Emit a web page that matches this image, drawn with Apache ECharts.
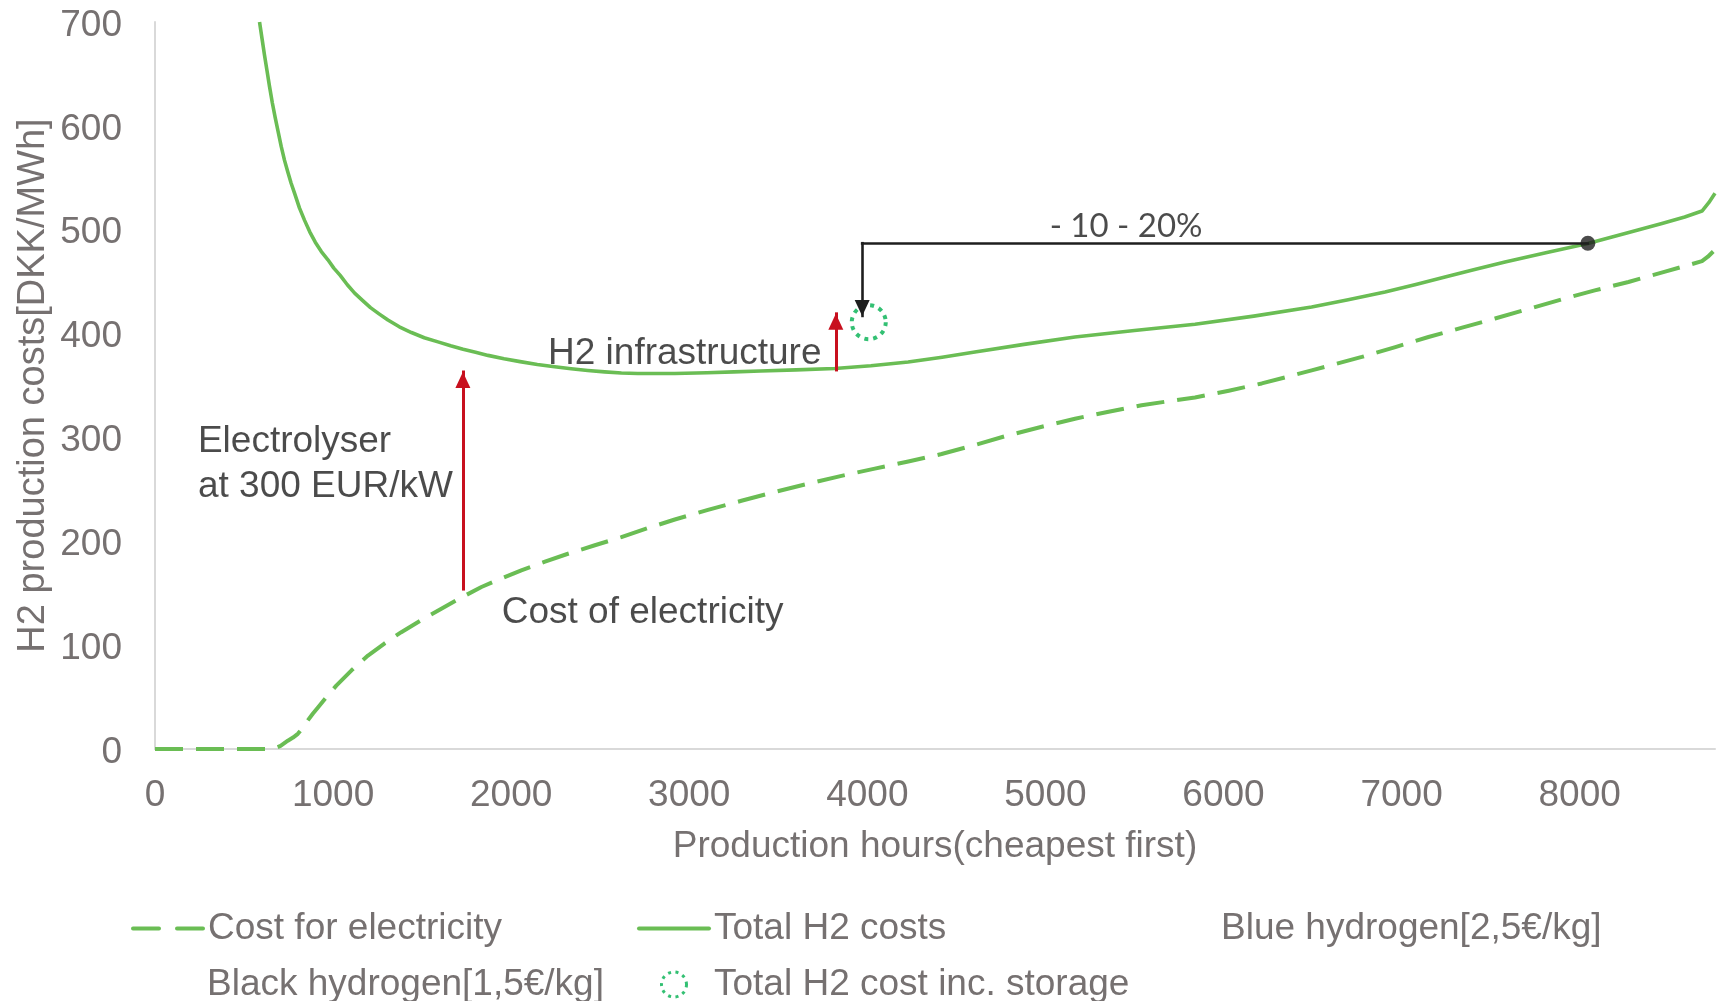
<!DOCTYPE html>
<html>
<head>
<meta charset="utf-8">
<script src="https://cdn.jsdelivr.net/npm/echarts@6/dist/echarts.min.js"></script>
<style>
  html, body { margin: 0; padding: 0; background: #ffffff; }
  #chart { width: 1729px; height: 1001px; }
</style>
</head>
<body>
<div id="chart"></div>
<script>
// H2 production cost curves, hours sorted cheapest first: [hours, DKK/MWh]
const totalH2Costs = [
  [587, 700], [601, 684], [615, 668], [629, 653], [643, 638], [659, 622],
  [675, 608], [692, 594], [709, 580], [727, 567], [745, 556], [764, 545],
  [784, 535], [811, 521], [840, 509], [869, 498], [900, 488], [934, 479],
  [971, 471], [1004, 463], [1040, 456], [1080, 447], [1121, 439], [1165, 432],
  [1210, 425], [1258, 419], [1308, 413], [1372, 406.5], [1440, 401], [1512, 396],
  [1589, 392], [1660, 388.3], [1730, 385], [1800, 382], [1870, 379], [1960, 375.8],
  [2050, 373], [2147, 370.3], [2244, 368], [2337, 366.1], [2430, 364.5], [2525, 363.1],
  [2619, 362], [2710, 361.6], [2800, 361.5], [2919, 361.5], [3100, 362.3], [3250, 363.1],
  [3400, 364], [3600, 365], [3817, 366.3], [4020, 369], [4229, 372.6], [4420, 377.2],
  [4604, 382.3], [4880, 389.6], [5166, 396.7], [5500, 402.9], [5840, 409], [6170, 416.8],
  [6495, 425.6], [6700, 432.5], [6907, 440], [7080, 447.2], [7244, 454.5], [7410, 461.6],
  [7581, 469], [7810, 477.8], [8046, 486.7], [8260, 496.5], [8462, 506], [8590, 512.2],
  [8687, 518], [8725, 526], [8760, 535]
];

const electricityCosts = [
  [0, 0], [662, 0], [705, 3], [746, 8], [775, 11], [802, 14.6], [830, 20.5],
  [858, 27.5], [886, 34], [915, 40], [965, 50.5], [1018, 61], [1105, 76],
  [1196, 90], [1290, 101.8], [1383, 112.5], [1495, 124], [1608, 135], [1720, 145.8],
  [1833, 156], [1945, 164.2], [2057, 172], [2190, 180.3], [2319, 188], [2470, 196.2],
  [2619, 204], [2770, 212.8], [2919, 221], [3105, 230.3], [3293, 239], [3480, 247.5],
  [3667, 255.5], [3855, 263], [4042, 270], [4230, 276.8], [4417, 284], [4605, 292.8],
  [4791, 302], [4980, 310.3], [5166, 318], [5355, 324.8], [5540, 331], [5690, 334.8],
  [5840, 338.5], [6030, 345], [6215, 352], [6355, 358.2], [6495, 364.6], [6635, 371],
  [6777, 377.5], [6965, 387], [7151, 396.7], [7340, 405.7], [7525, 414.5], [7710, 423.6],
  [7900, 433], [8085, 441.6], [8274, 449.7], [8480, 459.6], [8687, 469.7], [8720, 474], [8750, 479]
];

// Reference lines listed in the legend only
const blueHydrogen = [];
const blackHydrogen = [];

// Total cost including storage, and the full-year reference point
const storageCost = [[4008, 411]];
const fullYearCost = [[8046, 487]];

// Annotation geometry in data units
const electrolyserArrow = [[1729, 154], [1729, 363]];
const infrastructureArrow = [[3823, 365], [3823, 419]];
const savingPath = [[8046, 487], [3971, 487], [3971, 417]];

const notes = [
  { text: 'Electrolyser\nat 300 EUR/kW', at: [241, 274] },
  { text: 'H2 infrastructure', at: [2207, 381] },
  { text: 'Cost of electricity', at: [1947, 131.5] },
  { text: '- 10 - 20%', at: [5453, 503] }
];

const FONT = "'Liberation Sans', Arial, sans-serif";
const GREY = '#767171';
const GREEN = '#6abd54';
const DOT_GREEN = '#00b050';
const RED = '#c8101e';
const INK = '#1e1e1e';

const noteStyles = {
  'Electrolyser\nat 300 EUR/kW': { align: 'left', lineHeight: 45 },
  'H2 infrastructure': { align: 'left' },
  'Cost of electricity': { align: 'left' },
  '- 10 - 20%': { align: 'center', fontFamily: "Lato, 'Open Sans', sans-serif", fontSize: 33 }
};

const arrowHead = { symbol: 'triangle', symbolSize: [15, 16], symbolOffset: [0, 8] };

function segment(from, to, color, width, withHead) {
  const ls = { color: color, width: width, type: 'solid', cap: 'square' };
  const end = Object.assign({ coord: to, lineStyle: ls }, withHead ? arrowHead : { symbol: 'none' });
  return [{ coord: from, symbol: 'none', lineStyle: ls }, end];
}

const legendText = { color: GREY, fontSize: 37, fontFamily: FONT };
function legendAt(name, left, top, extra) {
  return {
    data: [Object.assign({ name: name }, extra || {})],
    left: left, top: top, padding: 0,
    itemWidth: 70, itemHeight: 25,
    selectedMode: false,
    textStyle: legendText
  };
}
const hidden = { itemStyle: { opacity: 0 }, lineStyle: { opacity: 0 } };

const chart = echarts.init(document.getElementById('chart'), null, { renderer: 'canvas' });

chart.setOption({
  animation: false,
  backgroundColor: '#ffffff',
  grid: { left: 155, right: 14, top: 22, bottom: 252, containLabel: false },
  legend: [
    legendAt('Cost for electricity', 131, 910, {
      itemStyle: { opacity: 0 },
      lineStyle: { color: GREEN, width: 4, type: [26, 18], cap: 'round' }
    }),
    legendAt('Total H2 costs', 637, 910, {
      itemStyle: { opacity: 0 },
      lineStyle: { color: GREEN, width: 4, type: 'solid', cap: 'round' }
    }),
    legendAt('Blue hydrogen[2,5€/kg]', 1145, 910, hidden),
    legendAt('Black hydrogen[1,5€/kg]', 131, 966, hidden),
    legendAt('Total H2 cost inc. storage', 660, 966, {
      itemStyle: { color: 'rgba(0,0,0,0)', borderColor: DOT_GREEN, borderWidth: 3, borderType: [3, 4.5] }
    })
  ],
  xAxis: {
    type: 'value', min: 0, max: 8760, interval: 1000,
    name: 'Production hours(cheapest first)',
    nameLocation: 'middle', nameGap: 79, nameMoveOverlap: false,
    nameTextStyle: { color: GREY, fontSize: 37, fontFamily: FONT },
    axisLine: { show: true, lineStyle: { color: '#d9d9d9', width: 2 } },
    axisTick: { show: false },
    splitLine: { show: false },
    axisLabel: {
      color: GREY, fontSize: 37, fontFamily: FONT, margin: 28,
      showMaxLabel: false,
      formatter: function (v) { return v % 1000 === 0 ? String(v) : ''; }
    }
  },
  yAxis: {
    type: 'value', min: 0, max: 700, interval: 100,
    name: 'H2 production costs[DKK/MWh]',
    nameLocation: 'middle', nameGap: 102, nameMoveOverlap: false,
    nameTextStyle: { color: GREY, fontSize: 38, fontFamily: FONT },
    axisLine: { show: true, lineStyle: { color: '#d9d9d9', width: 2 } },
    axisTick: { show: false },
    splitLine: { show: false },
    axisLabel: {
      margin: 33,
      formatter: function (v) { return '{t|' + v + '}'; },
      rich: { t: { color: GREY, fontSize: 37, fontFamily: FONT, padding: [7, 0, 0, 0] } }
    }
  },
  series: [
    {
      name: 'Cost for electricity', type: 'line', data: electricityCosts,
      symbol: 'none', smooth: false, z: 3,
      lineStyle: { color: GREEN, width: 4, type: [28, 13], join: 'round' },
      itemStyle: { color: GREEN },
      emphasis: { disabled: true }
    },
    {
      name: 'Total H2 costs', type: 'line', data: totalH2Costs,
      symbol: 'none', smooth: false, z: 3,
      lineStyle: { color: GREEN, width: 3.6, join: 'round' },
      itemStyle: { color: GREEN },
      emphasis: { disabled: true }
    },
    {
      name: 'Blue hydrogen[2,5€/kg]', type: 'line', data: blueHydrogen,
      symbol: 'none', lineStyle: { opacity: 0 }, itemStyle: { opacity: 0 }
    },
    {
      name: 'Black hydrogen[1,5€/kg]', type: 'line', data: blackHydrogen,
      symbol: 'none', lineStyle: { opacity: 0 }, itemStyle: { opacity: 0 }
    },
    {
      name: 'Total H2 cost inc. storage', type: 'scatter', data: storageCost,
      symbol: 'circle', symbolSize: 34, z: 4,
      itemStyle: { color: 'rgba(0,0,0,0)', borderColor: DOT_GREEN, borderWidth: 4, borderType: [4, 5] },
      emphasis: { disabled: true }
    },
    {
      name: 'full-year', type: 'scatter', data: fullYearCost,
      symbol: 'circle', symbolSize: 15, z: 6,
      itemStyle: { color: INK },
      emphasis: { disabled: true }
    },
    {
      name: 'notes', type: 'scatter', symbolSize: 0, z: 7, silent: true,
      data: notes.map(function (n) {
        return {
          value: n.at,
          label: Object.assign({
            show: true, position: 'inside', formatter: n.text,
            color: INK, fontSize: 37, fontFamily: FONT, verticalAlign: 'middle'
          }, noteStyles[n.text])
        };
      }),
      markLine: {
        silent: true, animation: false,
        symbol: ['none', 'none'],
        label: { show: false },
        emphasis: { disabled: true },
        data: [
          segment(electrolyserArrow[0], electrolyserArrow[1], RED, 3, true),
          segment(infrastructureArrow[0], infrastructureArrow[1], RED, 3, true),
          segment(savingPath[0], savingPath[1], INK, 2.6, false),
          segment(savingPath[1], savingPath[2], INK, 2.6, true)
        ]
      }
    }
  ]
});
</script>
</body>
</html>
